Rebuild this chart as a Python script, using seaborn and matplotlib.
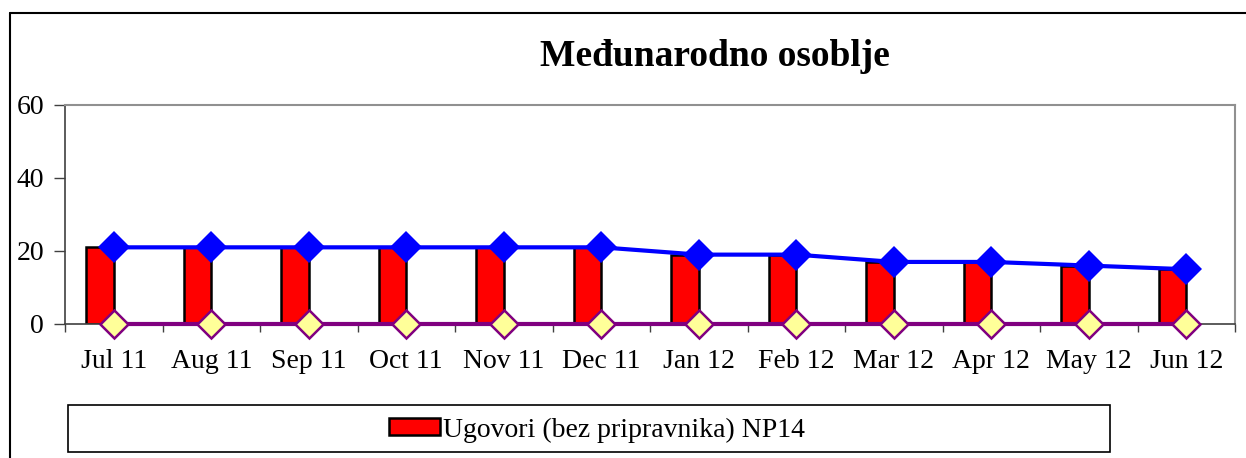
import numpy as np
import pandas as pd
import matplotlib
matplotlib.use('Agg')
import matplotlib.pyplot as plt
from matplotlib.lines import Line2D
from matplotlib.patches import Patch, Rectangle
import seaborn as sns

# data
months = ['Jul 11', 'Aug 11', 'Sep 11', 'Oct 11', 'Nov 11', 'Dec 11',
          'Jan 12', 'Feb 12', 'Mar 12', 'Apr 12', 'May 12', 'Jun 12']
ugovori = [21, 21, 21, 21, 21, 21, 19, 19, 17, 17, 16, 15]
ukupno = [21, 21, 21, 21, 21, 21, 19, 19, 17, 17, 16, 15]
ostalo = [0, 0, 0, 0, 0, 0, 0, 0, 0, 0, 0, 0]
title = 'Međunarodno osoblje'
legend_label = 'Ugovori (bez pripravnika) NP14'

sns.set_style('white')
plt.rcParams['font.family'] = ['Liberation Serif', 'DejaVu Serif']
plt.rcParams['text.color'] = 'black'
plt.rcParams['xtick.color'] = 'black'
plt.rcParams['ytick.color'] = 'black'

df = pd.DataFrame({'month': months, 'ugovori': ugovori,
                   'ukupno': ukupno, 'ostalo': ostalo})
df['pos'] = np.arange(len(df)) + 0.5

fig = plt.figure(figsize=(12.46, 4.58), dpi=100)
ax = fig.add_axes([0.0522, 0.2926, 0.9390, 0.4782])

# bars sit just left of the category centre
ax.bar(df['pos'], df['ugovori'], width=-0.28, align='edge',
       color='#FF0000', edgecolor='black', linewidth=1.8, zorder=2)

sns.lineplot(data=df, x='pos', y='ukupno', ax=ax, color='#0000FF',
             linewidth=3, marker='D', markersize=16.5, markeredgewidth=0,
             markerfacecolor='#0000FF', zorder=4, clip_on=False)
sns.lineplot(data=df, x='pos', y='ostalo', ax=ax, color='#800080',
             linewidth=3, marker='D', markersize=14, markeredgewidth=1.8,
             markerfacecolor='#FFFF99', markeredgecolor='#800080',
             zorder=4, clip_on=False)

ax.set_xlim(0, len(months))
ax.set_ylim(0, 60)
ax.set_yticks([0, 20, 40, 60])
ax.set_xticks(df['pos'])
ax.set_xticklabels(months)
ax.set_xticks(np.arange(len(months) + 1), minor=True)
ax.tick_params(axis='x', which='major', length=0, labelsize=20, pad=18)
ax.tick_params(axis='x', which='minor', length=6, width=1, color='#404040',
               direction='out', bottom=True)
ax.tick_params(axis='y', length=8, width=1, color='#404040', labelsize=20,
               direction='out', left=True, pad=7)
ax.set_xlabel('')
ax.set_ylabel('')

for side in ['top', 'right']:
    ax.spines[side].set_color('#909090')
    ax.spines[side].set_linewidth(1.5)
ax.spines['left'].set_color('#404040')
ax.spines['bottom'].set_color('#404040')
ax.spines['left'].set_linewidth(1.2)
ax.spines['bottom'].set_linewidth(1.2)

fig.text(0.574, 0.876, title, ha='center', va='center',
         fontsize=27, fontweight='bold')

# legend box along the bottom
fig.add_artist(Rectangle((68 / 1246, 1 - 452 / 458), 1042 / 1246, 47 / 458,
                         facecolor='none', edgecolor='black', linewidth=1.2,
                         transform=fig.transFigure))
handle = Patch(facecolor='#FF0000', edgecolor='black', linewidth=1.8)
leg = fig.legend([handle], [legend_label], loc='center',
                 bbox_to_anchor=(597 / 1246, 1 - 430 / 458),
                 fontsize=20, frameon=False,
                 handlelength=1.85, handleheight=0.55, handletextpad=0.1,
                 borderaxespad=0)

# outer chart frame (top and left edge visible)
fig.add_artist(Line2D([10 / 1246, 1.0], [1 - 13 / 458, 1 - 13 / 458],
                      color='black', linewidth=1.5, transform=fig.transFigure))
fig.add_artist(Line2D([10 / 1246, 10 / 1246], [0.0, 1 - 13 / 458],
                      color='black', linewidth=1.5, transform=fig.transFigure))

fig.savefig('out.png', dpi=100)
